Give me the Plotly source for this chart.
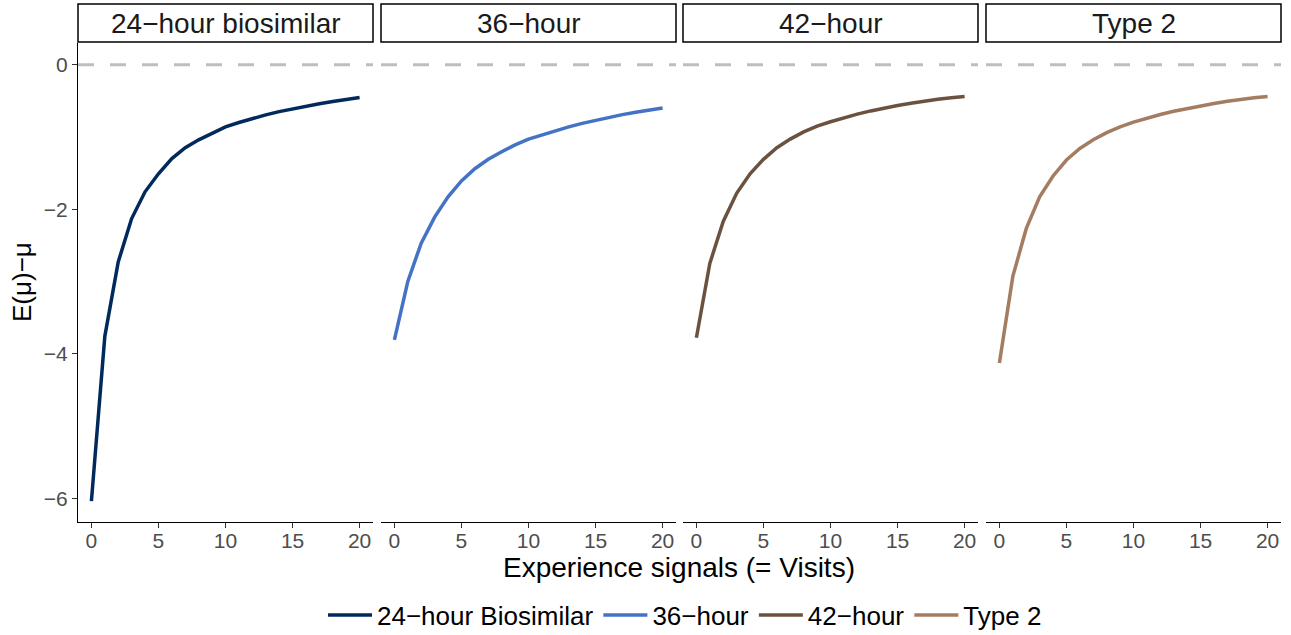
import plotly.graph_objects as go

visits = list(range(21))

panel_titles = ["24\u2212hour biosimilar", "36\u2212hour", "42\u2212hour", "Type 2"]
series_names = ["24\u2212hour Biosimilar", "36\u2212hour", "42\u2212hour", "Type 2"]
series_colors = ["#002A5C", "#4472C4", "#6B5240", "#A47C62"]

bias_24h = [-6.04, -3.76, -2.73, -2.13, -1.76, -1.51, -1.30, -1.15, -1.04, -0.945,
            -0.86, -0.80, -0.745, -0.695, -0.65, -0.61, -0.575, -0.54, -0.51, -0.48, -0.455]
bias_36h = [-3.81, -3.00, -2.47, -2.11, -1.83, -1.61, -1.44, -1.31, -1.205, -1.11,
            -1.03, -0.97, -0.913, -0.86, -0.812, -0.768, -0.728, -0.691, -0.658, -0.628, -0.60]
bias_42h = [-3.78, -2.75, -2.17, -1.78, -1.51, -1.31, -1.15, -1.03, -0.93, -0.85,
            -0.79, -0.735, -0.685, -0.64, -0.60, -0.565, -0.533, -0.503, -0.478, -0.458, -0.44]
bias_type2 = [-4.13, -2.93, -2.27, -1.83, -1.54, -1.32, -1.16, -1.04, -0.94, -0.86,
              -0.795, -0.74, -0.69, -0.645, -0.605, -0.57, -0.537, -0.507, -0.48, -0.458, -0.44]
series_values = [bias_24h, bias_36h, bias_42h, bias_type2]

x_ticks = [0, 5, 10, 15, 20]
y_ticks = [0, -2, -4, -6]
y_tick_labels = ["0", "\u22122", "\u22124", "\u22126"]

W, H = 1291, 635
ml, mr, mt, mb = 78, 10, 4, 113
pw = W - ml - mr
ph = H - mt - mb
panels_px = [(78, 373), (381, 676), (683, 978), (986, 1281)]
strip_bot_px = 43
domains = [((a - ml) / pw, (b - ml) / pw) for a, b in panels_px]
ydom_top = (H - mb - strip_bot_px) / ph

def py_to_paper(py):
    return (H - mb - py) / ph

def px_to_paper(px):
    return (px - ml) / pw

fig = go.Figure()
font_family = "Liberation Sans, Arial, sans-serif"

for i in range(4):
    xa = "x" if i == 0 else f"x{i+1}"
    ya = "y" if i == 0 else f"y{i+1}"
    fig.add_trace(go.Scatter(
        x=visits, y=series_values[i], mode="lines",
        line=dict(color=series_colors[i], width=3.5),
        name=series_names[i], xaxis=xa, yaxis=ya, showlegend=True,
    ))
    xkey = "xaxis" if i == 0 else f"xaxis{i+1}"
    ykey = "yaxis" if i == 0 else f"yaxis{i+1}"
    fig.layout[xkey] = dict(
        domain=list(domains[i]), range=[-1.0, 21.0], anchor=ya,
        tickvals=x_ticks, ticks="outside", ticklen=5, tickcolor="#333333", tickwidth=1.2,
        tickfont=dict(size=21, color="#4D4D4D", family=font_family),
        ticklabelstandoff=-5,
        showline=True, linecolor="#000000", linewidth=1.2,
        showgrid=False, zeroline=False, fixedrange=True, automargin=False,
    )
    fig.layout[ykey] = dict(
        domain=[0, ydom_top], range=[-6.33, 0.3], anchor=xa,
        tickvals=y_ticks, ticktext=y_tick_labels,
        ticks="outside" if i == 0 else "", ticklen=5, tickcolor="#333333", tickwidth=1.2,
        showticklabels=(i == 0),
        tickfont=dict(size=21, color="#4D4D4D", family=font_family),
        showline=(i == 0), linecolor="#000000", linewidth=1.2,
        showgrid=False, zeroline=False, fixedrange=True, automargin=False,
    )
    fig.add_shape(type="line", xref=f"{xa} domain", yref=ya,
                  x0=0, x1=1, y0=0, y1=0,
                  line=dict(color="#BEBEBE", width=3, dash="16px,16px"), layer="below")
    x0p, x1p = domains[i]
    fig.add_shape(type="rect", xref="paper", yref="paper",
                  x0=x0p, x1=x1p, y0=ydom_top + 0.002, y1=1.0,
                  line=dict(color="#000000", width=1.5), fillcolor="white")
    fig.add_annotation(x=(x0p + x1p) / 2, y=(ydom_top + 1) / 2, xref="paper", yref="paper",
                       text=panel_titles[i], showarrow=False,
                       font=dict(size=28, color="#1A1A1A", family=font_family),
                       xanchor="center", yanchor="middle")

fig.add_annotation(x=px_to_paper(679), y=py_to_paper(567), xref="paper", yref="paper",
                   text="Experience signals (= Visits)", showarrow=False,
                   font=dict(size=28, color="#000000", family=font_family),
                   xanchor="center", yanchor="middle")

fig.add_annotation(x=px_to_paper(22), y=py_to_paper(282), xref="paper", yref="paper",
                   text="E(\u03bc)\u2212\u03bc", showarrow=False, textangle=-90,
                   font=dict(size=26, color="#000000", family=font_family),
                   xanchor="center", yanchor="middle")

fig.update_layout(
    width=W, height=H,
    margin=dict(l=ml, r=mr, t=mt, b=mb, autoexpand=False),
    plot_bgcolor="white", paper_bgcolor="white",
    font=dict(family=font_family),
    showlegend=True,
    legend=dict(orientation="h", x=px_to_paper(685), xanchor="center",
                y=py_to_paper(615), yanchor="middle",
                font=dict(size=26, color="#000000", family=font_family),
                itemwidth=44, tracegroupgap=0, bgcolor="rgba(0,0,0,0)"),
)

fig.write_html("out.html", config={"displayModeBar": False},
               post_script="document.body.style.margin='0';document.body.style.overflow='hidden';")
